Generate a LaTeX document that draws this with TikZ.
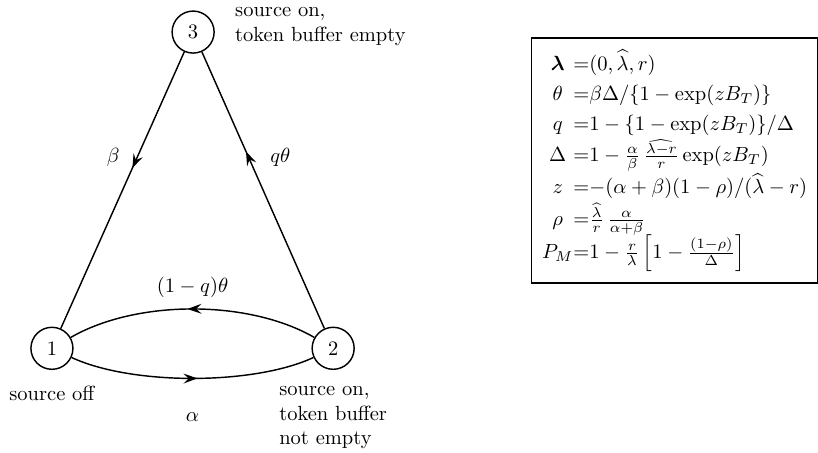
\documentclass[tikz,border=0pt]{standalone}
\usepackage{amsmath}
\usetikzlibrary{positioning,arrows.meta,decorations.markings}

\begin{document}
\begin{tikzpicture}[line width=0.7pt,
    state/.style={draw,circle,minimum size=0.72cm,inner sep=0pt},
    midarrow/.style={postaction={decorate,decoration={markings,
        mark=at position #1 with {\arrow{Stealth[length=2.4mm,width=1.7mm,inset=0.9mm]}}}}}]
    \useasboundingbox (-0.89,-1.78) rectangle (13.13,5.97);
    % states of the source
    \node[state] (n1) at (0,0) {1};
    \node[state] (n2) at (4.82,0) {2};
    \node[state] (n3) at (2.42,5.42) {3};
    \node[below=0.15cm of n1] (l1) {source off};
    \node[below=0.15cm of n2,align=left] (l2) {source on,\\token buffer\\not empty};
    \node[right=0.22cm of n3,yshift=0.1cm,align=left] (l3) {source on,\\token buffer empty};
    % transitions
    \draw[midarrow=0.42] (n3) -- node[pos=0.38,left=5pt] {$\beta$} (n1);
    \draw[midarrow=0.64] (n2) -- node[pos=0.62,right=7pt] {$q\theta$} (n3);
    \draw[midarrow=0.52] (n2) to[out=150,in=30,looseness=0.8] node[above=2pt] {$(1-q)\theta$} (n1);
    \draw[midarrow=0.52] (n1) to[out=-25,in=-155,looseness=0.7] node[below=13pt] {$\alpha$} (n2);
    % parameters
    \node[draw,anchor=north west,minimum width=4.9cm,minimum height=4.2cm] (eqs) at (8.21,5.33) {%
        \def\arraystretch{1.22}%
        $\begin{array}{@{}c@{}l@{}}
            \boldsymbol{\lambda} & {=}(0,\widehat{\lambda},r)\\
            \theta & {=}\beta\Delta/\{1-\exp(zB_T)\}\\
            q & {=}1-\{1-\exp(zB_T)\}/\Delta\\
            \Delta & {=}1-\frac{\alpha}{\beta}\,\frac{\widehat{\lambda-r}}{r}\exp(zB_T)\\[1pt]
            z & {=}{-}(\alpha+\beta)(1-\rho)/(\widehat{\lambda}-r)\\
            \rho & {=}\frac{\widehat{\lambda}}{r}\,\frac{\alpha}{\alpha+\beta}\\
            P_M & {=}1-\frac{r}{\lambda}\left[1-\frac{(1-\rho)}{\Delta}\right]
        \end{array}$};
\end{tikzpicture}
\end{document}
